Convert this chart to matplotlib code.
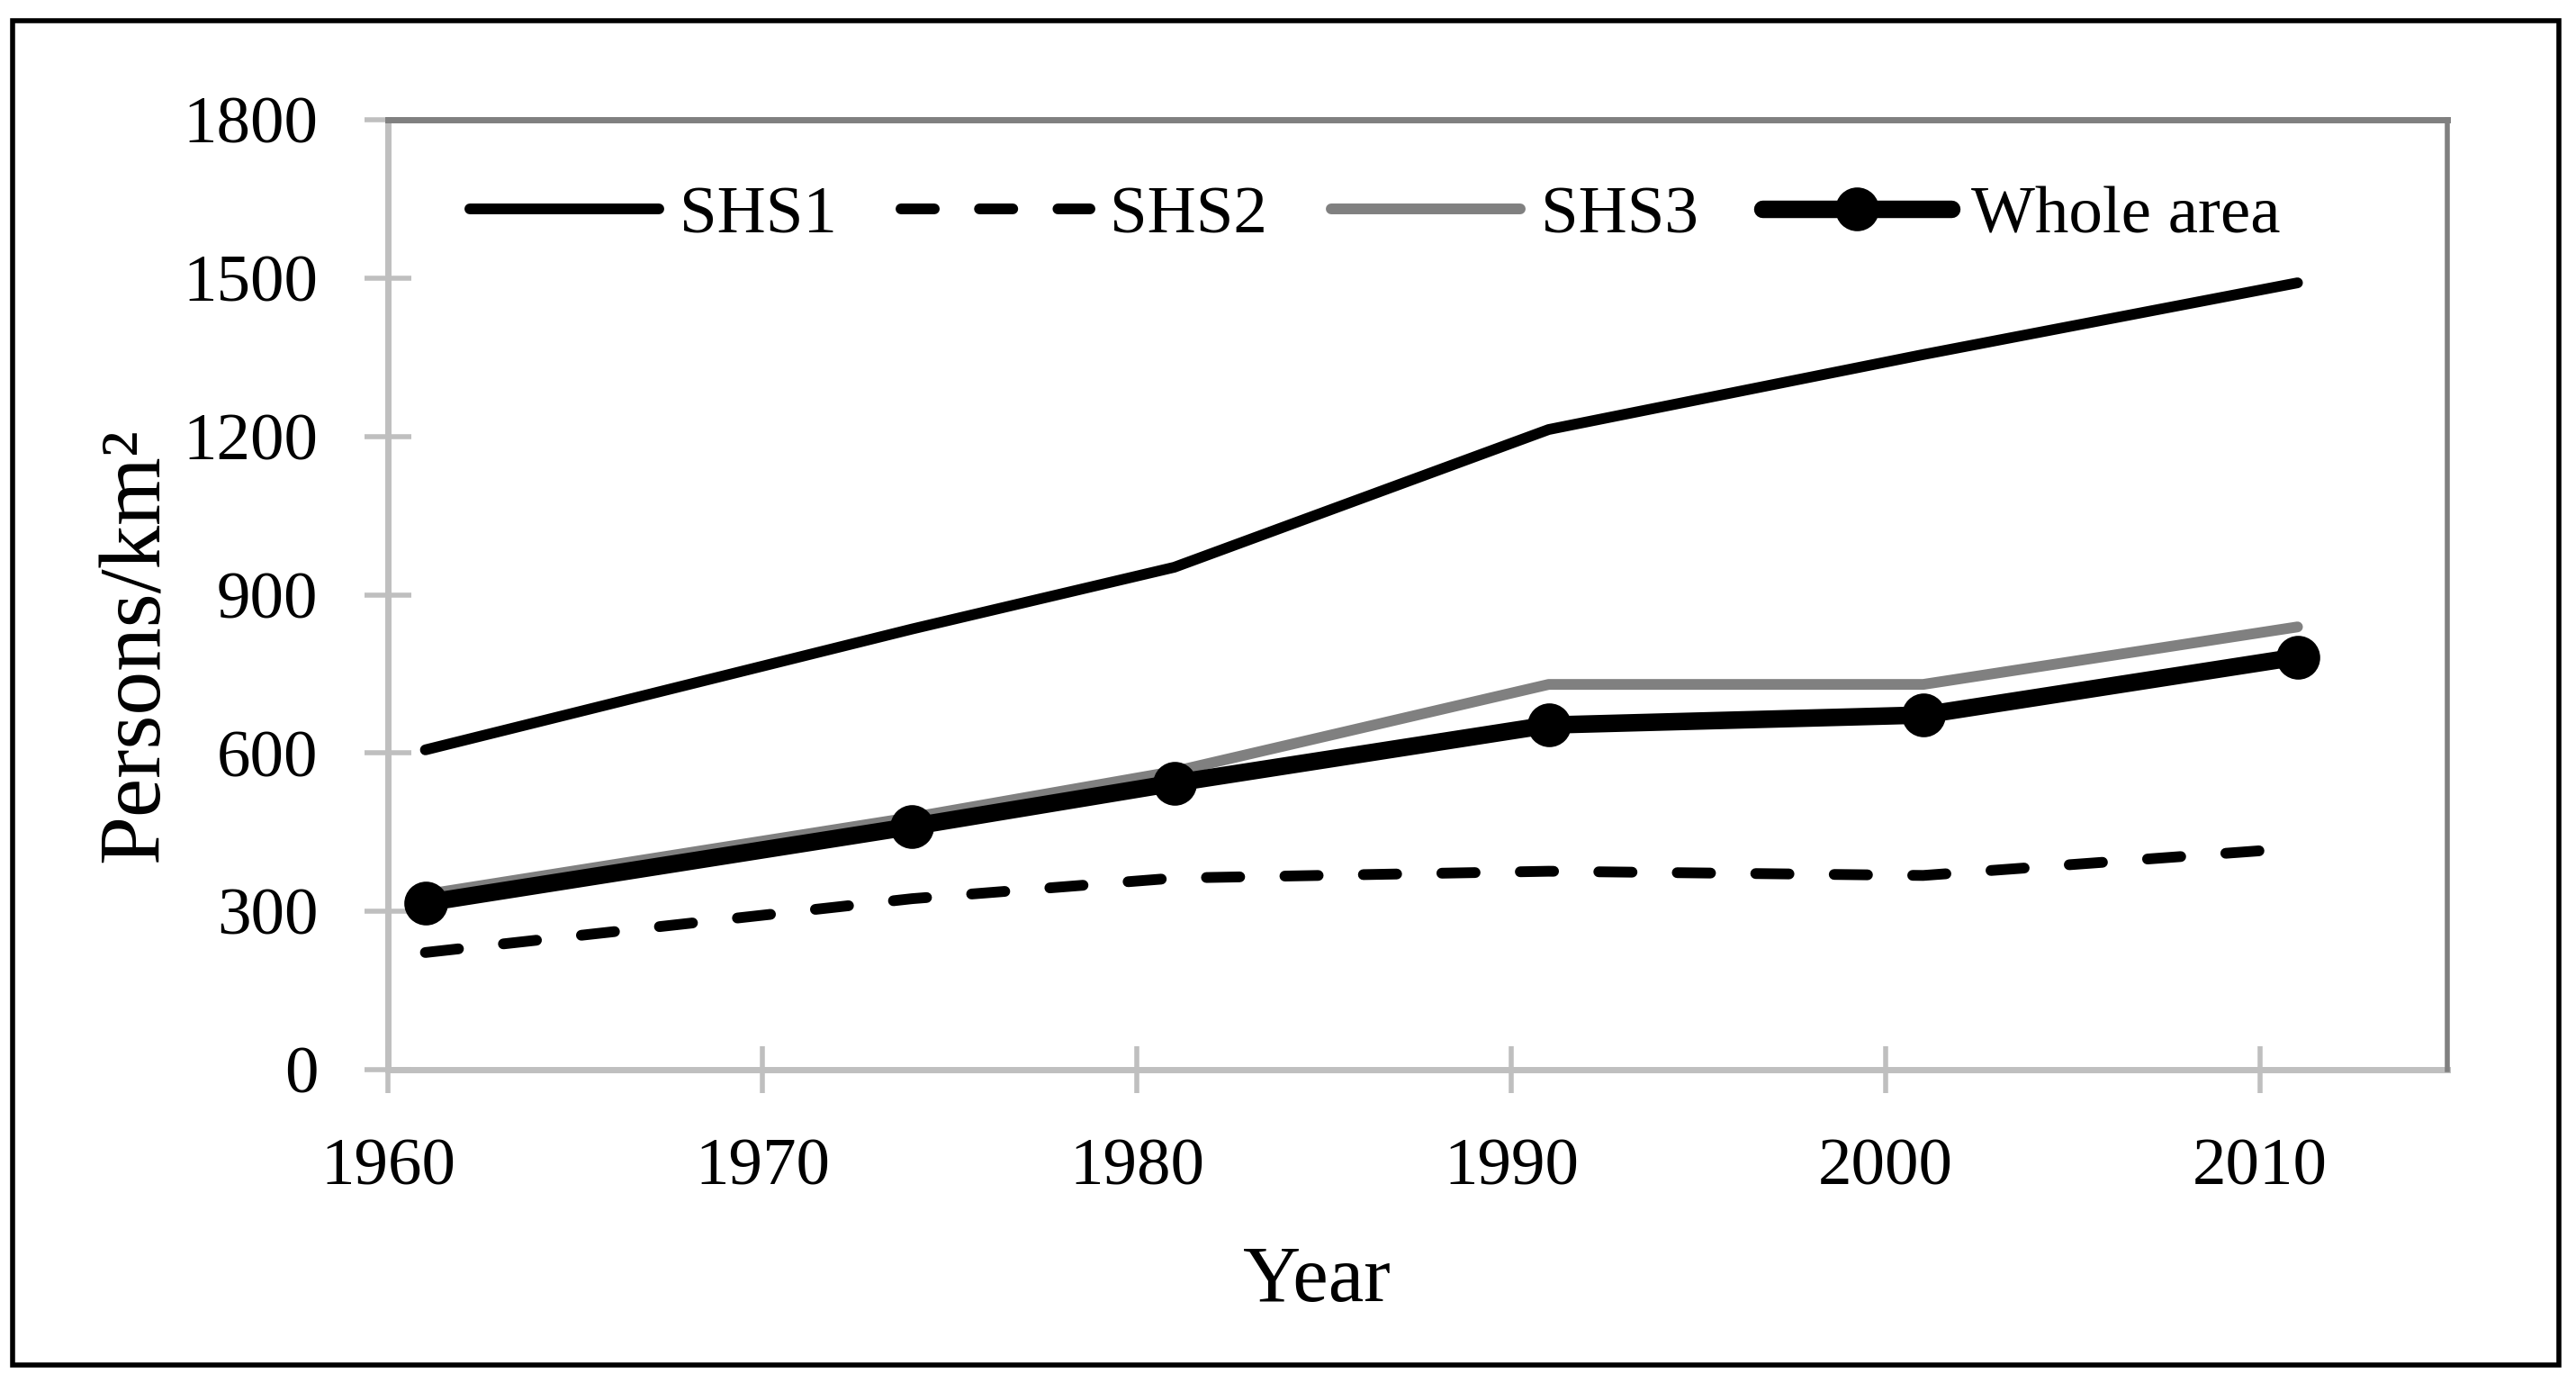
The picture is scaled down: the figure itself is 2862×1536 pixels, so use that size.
import matplotlib
matplotlib.use("Agg")
import matplotlib.pyplot as plt
from matplotlib.patches import Rectangle

# ---- data ----
years = [1961, 1974, 1981, 1991, 2001, 2011]
shs1 = [606, 835, 952, 1213, 1355, 1491]
shs2 = [222, 324, 363, 376, 368, 420]
shs3 = [332, 478, 565, 730, 730, 839]
whole = [316, 461, 543, 653, 672, 782]
series_labels = ["SHS1", "SHS2", "SHS3", "Whole area"]
x_ticks = [1960, 1970, 1980, 1990, 2000, 2010]
y_ticks = [0, 300, 600, 900, 1200, 1500, 1800]

plt.rcParams['font.family'] = ['Liberation Serif', 'DejaVu Serif']

W, H, DPI = 2862, 1536, 200
fig = plt.figure(figsize=(W / DPI, H / DPI), dpi=DPI)
fig.patch.set_facecolor('white')

# outer border
fig.patches.append(Rectangle((14 / W, 1 - 1516 / H), (2843 - 14) / W, (1516 - 23) / H,
                             transform=fig.transFigure, fill=False,
                             edgecolor='black', linewidth=2.0, zorder=0))

left, right = 431 / W, 2719 / W
bottom, top = 1 - 1188 / H, 1 - 133 / H
ax = fig.add_axes([left, bottom, right - left, top - bottom])

ax.plot(years, shs1, color='black', lw=4.3, solid_capstyle='round',
        solid_joinstyle='round', label=series_labels[0], zorder=3)
ax.plot(years, shs2, color='black', lw=4.3, dashes=(3.1, 4.2),
        dash_capstyle='round', dash_joinstyle='round', label=series_labels[1], zorder=3)
ax.plot(years, shs3, color='#808080', lw=4.3, solid_capstyle='round',
        solid_joinstyle='round', label=series_labels[2], zorder=3)
ax.plot(years, whole, color='black', lw=7.0, marker='o', markersize=16.5,
        solid_capstyle='round', solid_joinstyle='round', label=series_labels[3], zorder=4)

ax.set_xlim(1960, 2015)
ax.set_ylim(0, 1800)
ax.set_xticks(x_ticks)
ax.set_yticks(y_ticks)

for s in ['left', 'bottom']:
    ax.spines[s].set_color('#BFBFBF')
    ax.spines[s].set_linewidth(2.5)
    ax.spines[s].set_zorder(2)
ax.spines['top'].set_color('#808080')
ax.spines['top'].set_linewidth(2.5)
ax.spines['right'].set_color('#808080')
ax.spines['right'].set_linewidth(2.0)

ax.tick_params(axis='both', direction='inout', length=19, width=2.0,
               color='#BFBFBF', labelsize=27, labelcolor='black')
ax.tick_params(axis='y', pad=18.5)
ax.tick_params(axis='x', pad=18)

ax.set_xlabel("Year", fontsize=32)
ax.set_ylabel("Persons/km²", fontsize=35)
ax.xaxis.set_label_coords((1463 - 431) / (2719 - 431), (1188 - 1383) / (1188 - 133))
ax.yaxis.set_label_coords((197 - 431) / (2719 - 431), (1188 - 717) / (1188 - 133))

leg = ax.legend(loc='center left', bbox_to_anchor=((522 - 431) / (2719 - 431), (1188 - 240) / (1188 - 133)),
                ncol=4, frameon=False, fontsize=27, handlelength=2.8,
                handletextpad=0.3, columnspacing=0.95, borderpad=0, borderaxespad=0)

fig.savefig("out.png", dpi=DPI, facecolor='white')
